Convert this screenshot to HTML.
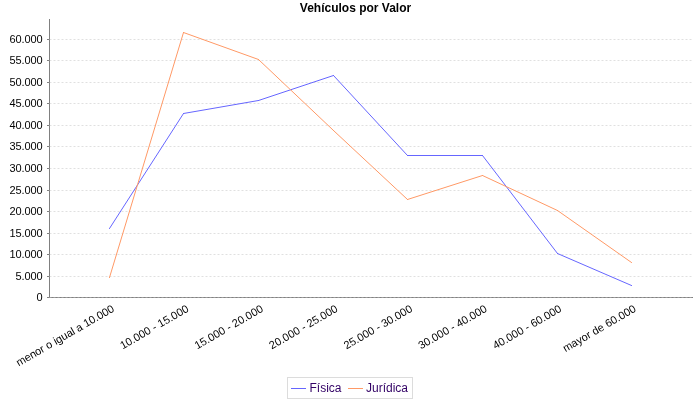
<!DOCTYPE html>
<html><head><meta charset="utf-8"><style>
html,body{margin:0;padding:0;background:#fff;}
svg{display:block;font-family:"Liberation Sans",sans-serif;}
</style></head><body>
<svg width="700" height="400" viewBox="0 0 700 400">
<rect width="700" height="400" fill="#fff"/>
<g opacity="0.999">
<line x1="49.5" y1="19" x2="49.5" y2="298" stroke="#808080" stroke-width="1" shape-rendering="crispEdges"/>
<line x1="49" y1="297.5" x2="693" y2="297.5" stroke="#808080" stroke-width="1" shape-rendering="crispEdges"/>
<line x1="49.5" y1="297.5" x2="693" y2="297.5" stroke="#c0c0c0" stroke-width="0.5" stroke-dasharray="2,2"/>
<line x1="49.5" y1="276.5" x2="693" y2="276.5" stroke="#c0c0c0" stroke-width="0.5" stroke-dasharray="2,2"/>
<line x1="49.5" y1="254.5" x2="693" y2="254.5" stroke="#c0c0c0" stroke-width="0.5" stroke-dasharray="2,2"/>
<line x1="49.5" y1="233.5" x2="693" y2="233.5" stroke="#c0c0c0" stroke-width="0.5" stroke-dasharray="2,2"/>
<line x1="49.5" y1="211.5" x2="693" y2="211.5" stroke="#c0c0c0" stroke-width="0.5" stroke-dasharray="2,2"/>
<line x1="49.5" y1="190.5" x2="693" y2="190.5" stroke="#c0c0c0" stroke-width="0.5" stroke-dasharray="2,2"/>
<line x1="49.5" y1="168.5" x2="693" y2="168.5" stroke="#c0c0c0" stroke-width="0.5" stroke-dasharray="2,2"/>
<line x1="49.5" y1="146.5" x2="693" y2="146.5" stroke="#c0c0c0" stroke-width="0.5" stroke-dasharray="2,2"/>
<line x1="49.5" y1="125.5" x2="693" y2="125.5" stroke="#c0c0c0" stroke-width="0.5" stroke-dasharray="2,2"/>
<line x1="49.5" y1="103.5" x2="693" y2="103.5" stroke="#c0c0c0" stroke-width="0.5" stroke-dasharray="2,2"/>
<line x1="49.5" y1="82.5" x2="693" y2="82.5" stroke="#c0c0c0" stroke-width="0.5" stroke-dasharray="2,2"/>
<line x1="49.5" y1="60.5" x2="693" y2="60.5" stroke="#c0c0c0" stroke-width="0.5" stroke-dasharray="2,2"/>
<line x1="49.5" y1="39.5" x2="693" y2="39.5" stroke="#c0c0c0" stroke-width="0.5" stroke-dasharray="2,2"/>
<line x1="47" y1="297.5" x2="49" y2="297.5" stroke="#808080" stroke-width="1" shape-rendering="crispEdges"/>
<line x1="47" y1="276.5" x2="49" y2="276.5" stroke="#808080" stroke-width="1" shape-rendering="crispEdges"/>
<line x1="47" y1="254.5" x2="49" y2="254.5" stroke="#808080" stroke-width="1" shape-rendering="crispEdges"/>
<line x1="47" y1="233.5" x2="49" y2="233.5" stroke="#808080" stroke-width="1" shape-rendering="crispEdges"/>
<line x1="47" y1="211.5" x2="49" y2="211.5" stroke="#808080" stroke-width="1" shape-rendering="crispEdges"/>
<line x1="47" y1="190.5" x2="49" y2="190.5" stroke="#808080" stroke-width="1" shape-rendering="crispEdges"/>
<line x1="47" y1="168.5" x2="49" y2="168.5" stroke="#808080" stroke-width="1" shape-rendering="crispEdges"/>
<line x1="47" y1="146.5" x2="49" y2="146.5" stroke="#808080" stroke-width="1" shape-rendering="crispEdges"/>
<line x1="47" y1="125.5" x2="49" y2="125.5" stroke="#808080" stroke-width="1" shape-rendering="crispEdges"/>
<line x1="47" y1="103.5" x2="49" y2="103.5" stroke="#808080" stroke-width="1" shape-rendering="crispEdges"/>
<line x1="47" y1="82.5" x2="49" y2="82.5" stroke="#808080" stroke-width="1" shape-rendering="crispEdges"/>
<line x1="47" y1="60.5" x2="49" y2="60.5" stroke="#808080" stroke-width="1" shape-rendering="crispEdges"/>
<line x1="47" y1="39.5" x2="49" y2="39.5" stroke="#808080" stroke-width="1" shape-rendering="crispEdges"/>
<text x="42.4" y="301" text-anchor="end" font-size="11" fill="#000" letter-spacing="-0.12">0</text>
<text x="42.4" y="280" text-anchor="end" font-size="11" fill="#000" letter-spacing="-0.12">5.000</text>
<text x="42.4" y="258" text-anchor="end" font-size="11" fill="#000" letter-spacing="-0.12">10.000</text>
<text x="42.4" y="237" text-anchor="end" font-size="11" fill="#000" letter-spacing="-0.12">15.000</text>
<text x="42.4" y="215" text-anchor="end" font-size="11" fill="#000" letter-spacing="-0.12">20.000</text>
<text x="42.4" y="194" text-anchor="end" font-size="11" fill="#000" letter-spacing="-0.12">25.000</text>
<text x="42.4" y="172" text-anchor="end" font-size="11" fill="#000" letter-spacing="-0.12">30.000</text>
<text x="42.4" y="150" text-anchor="end" font-size="11" fill="#000" letter-spacing="-0.12">35.000</text>
<text x="42.4" y="129" text-anchor="end" font-size="11" fill="#000" letter-spacing="-0.12">40.000</text>
<text x="42.4" y="107" text-anchor="end" font-size="11" fill="#000" letter-spacing="-0.12">45.000</text>
<text x="42.4" y="86" text-anchor="end" font-size="11" fill="#000" letter-spacing="-0.12">50.000</text>
<text x="42.4" y="64" text-anchor="end" font-size="11" fill="#000" letter-spacing="-0.12">55.000</text>
<text x="42.4" y="43" text-anchor="end" font-size="11" fill="#000" letter-spacing="-0.12">60.000</text>
<path d="M109.5 228.5L183.5 113.5M183.5 113.5L258.5 100.5M258.5 100.5L333.5 75.5M333.5 75.5L407.5 155.5M407.5 155.5L482.5 155.5M482.5 155.5L557.5 253.5M557.5 253.5L631.5 285.5" fill="none" stroke="#6666ff" stroke-width="1" stroke-linecap="square"/>
<path d="M109.5 277.5L183.5 32.5M183.5 32.5L258.5 59.5M258.5 59.5L333.5 130.5M333.5 130.5L407.5 199.5M407.5 199.5L482.5 175.5M482.5 175.5L557.5 210.5M557.5 210.5L631.5 262.5" fill="none" stroke="#ff9966" stroke-width="1" stroke-linecap="square"/>
<text transform="translate(114.9,311) rotate(-30)" text-anchor="end" font-size="11" fill="#000" letter-spacing="-0.07">menor o igual a 10.000</text>
<text transform="translate(189.5,311) rotate(-30)" text-anchor="end" font-size="11" fill="#000">10.000 - 15.000</text>
<text transform="translate(264.0,311) rotate(-30)" text-anchor="end" font-size="11" fill="#000">15.000 - 20.000</text>
<text transform="translate(338.6,311) rotate(-30)" text-anchor="end" font-size="11" fill="#000">20.000 - 25.000</text>
<text transform="translate(413.2,311) rotate(-30)" text-anchor="end" font-size="11" fill="#000">25.000 - 30.000</text>
<text transform="translate(487.8,311) rotate(-30)" text-anchor="end" font-size="11" fill="#000">30.000 - 40.000</text>
<text transform="translate(562.3,311) rotate(-30)" text-anchor="end" font-size="11" fill="#000">40.000 - 60.000</text>
<text transform="translate(636.9,311) rotate(-30)" text-anchor="end" font-size="11" fill="#000">mayor de 60.000</text>
<text x="355.5" y="12" text-anchor="middle" font-size="12" font-weight="bold" fill="#000">Vehículos por Valor</text>
<rect x="287.5" y="377.5" width="125" height="21" fill="none" stroke="#dcdcdc" stroke-width="1" shape-rendering="crispEdges"/>
<line x1="291" y1="388.5" x2="306" y2="388.5" stroke="#6666ff" stroke-width="1" shape-rendering="crispEdges"/>
<line x1="348" y1="388.5" x2="363" y2="388.5" stroke="#ff9966" stroke-width="1" shape-rendering="crispEdges"/>
<text x="309.5" y="392" font-size="12" fill="#330066">Física</text>
<text x="366" y="392" font-size="12" fill="#330066">Jurídica</text>
</g>
</svg>
</body></html>
